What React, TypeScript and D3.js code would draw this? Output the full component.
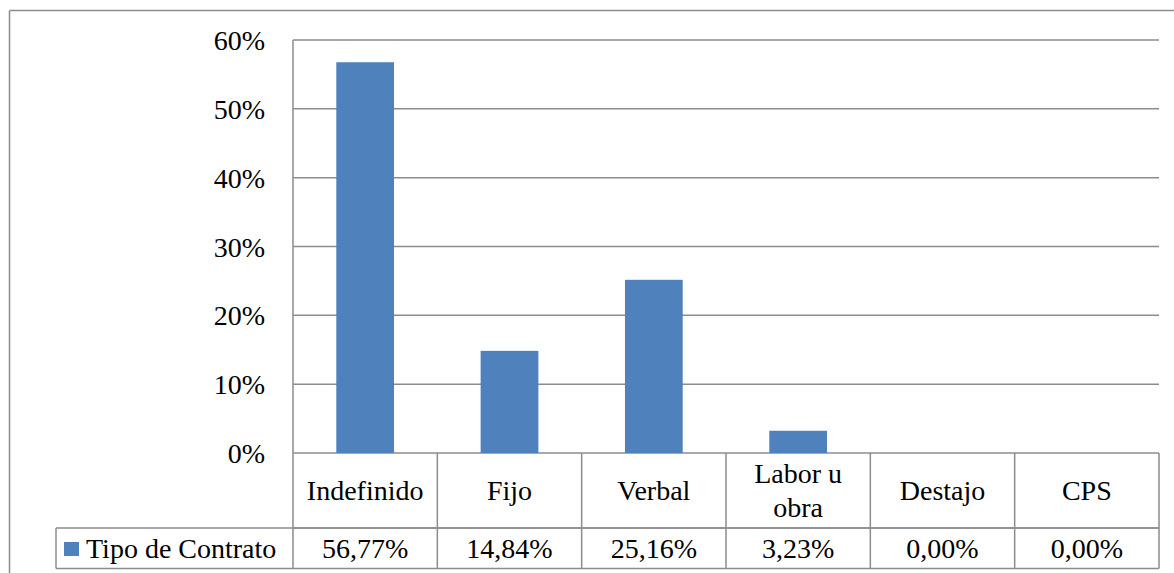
import React from "react";
import * as d3 from "d3";

const categories = ["Indefinido", "Fijo", "Verbal", "Labor u obra", "Destajo", "CPS"];
const categoryLines = [["Indefinido"], ["Fijo"], ["Verbal"], ["Labor u", "obra"], ["Destajo"], ["CPS"]];
const values = [56.77, 14.84, 25.16, 3.23, 0, 0];
const valueLabels = ["56,77%", "14,84%", "25,16%", "3,23%", "0,00%", "0,00%"];
const seriesName = "Tipo de Contrato";
const yTicks = [0, 10, 20, 30, 40, 50, 60];

const W = 1174, H = 573;
const left = 293, right = 1159, top = 40, bottom = 453;
const row1 = 528, row2 = 568.5, legendLeft = 56;
const font = '"Liberation Serif"';
const fs = 28;
const grid = "#8c8c8c";
const barColor = "#4f81bd";

export default function App() {
  const x = d3.scaleBand<string>().domain(categories).range([left, right]).paddingInner(0).paddingOuter(0);
  const y = d3.scaleLinear().domain([0, 60]).range([bottom, top]);
  const bw = x.bandwidth() * 0.4;
  const txt = { fontFamily: font, fontSize: fs, fill: "#000" };
  return (
    <svg width={W} height={H} style={{ position: "absolute", left: 0, top: 0, background: "#fff" }}>
      <rect x={0} y={0} width={W} height={H} fill="#fff" />
      <line x1={9.5} y1={10.5} x2={W} y2={10.5} stroke={grid} strokeWidth={1.5} />
      <line x1={9.5} y1={10.5} x2={9.5} y2={H} stroke={grid} strokeWidth={1.5} />
      {yTicks.map((t) => (
        <g key={t}>
          <line x1={left} x2={right} y1={y(t)} y2={y(t)} stroke={grid} strokeWidth={1.5} />
          <text x={265} y={y(t) + 10} textAnchor="end" style={txt}>
            {t}%
          </text>
        </g>
      ))}
      <line x1={left} x2={left} y1={top} y2={bottom} stroke={grid} strokeWidth={1.5} />
      {categories.map((c, i) => (
        <rect key={c} x={x(c)! + (x.bandwidth() - bw) / 2} y={y(values[i])} width={bw}
          height={bottom - y(values[i])} fill={barColor} />
      ))}
      <g stroke={grid} strokeWidth={1.5} fill="none">
        <line x1={left} x2={right} y1={row1} y2={row1} />
        <line x1={legendLeft} x2={right} y1={row1} y2={row1} />
        <line x1={legendLeft} x2={right} y1={row2} y2={row2} />
        <line x1={legendLeft} x2={legendLeft} y1={row1} y2={row2} />
        {categories.map((c) => (
          <line key={c} x1={x(c)!} x2={x(c)!} y1={bottom} y2={row2} />
        ))}
        <line x1={right} x2={right} y1={bottom} y2={row2} />
      </g>
      {categories.map((c, i) => {
        const cx = x(c)! + x.bandwidth() / 2;
        const lines = categoryLines[i];
        return (
          <g key={c}>
            {lines.map((l, j) => (
              <text key={j} x={cx} y={500 + (j - (lines.length - 1) / 2) * 34} textAnchor="middle" style={txt}>{l}</text>
            ))}
            <text x={cx} y={558} textAnchor="middle" style={txt}>
              {valueLabels[i]}
            </text>
          </g>
        );
      })}
      <rect x={64} y={542} width={15} height={14} fill={barColor} />
      <text x={86} y={558} style={txt}>{seriesName}</text>
    </svg>
  );
}
